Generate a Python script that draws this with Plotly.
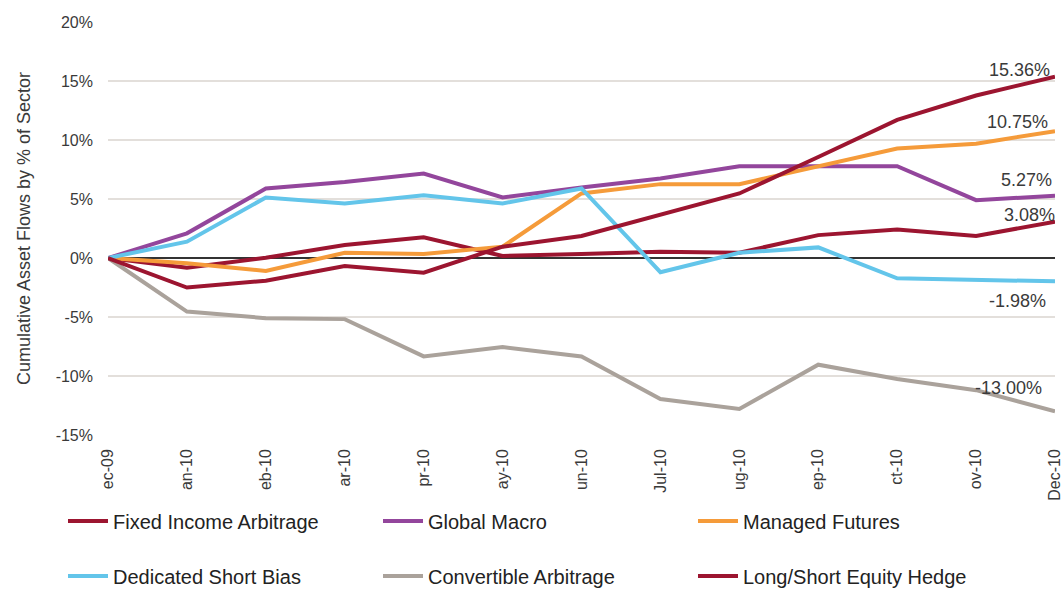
import plotly.graph_objects as go

# Month-end observation dates and the axis text shown under each tick
months = ["Dec-09", "Jan-10", "Feb-10", "Mar-10", "Apr-10", "May-10", "Jun-10",
          "Jul-10", "Aug-10", "Sep-10", "Oct-10", "Nov-10", "Dec-10"]
month_labels = ["ec-09", "an-10", "eb-10", "ar-10", "pr-10", "ay-10", "un-10",
                "Jul-10", "ug-10", "ep-10", "ct-10", "ov-10", "Dec-10"]

# Cumulative asset flows, % of sector
fixed_income_arb = [0, -0.82, 0.03, 1.10, 1.75, 0.17, 0.34, 0.53, 0.45, 1.94, 2.42, 1.86, 3.08]
global_macro = [0, 2.09, 5.89, 6.45, 7.16, 5.13, 5.98, 6.73, 7.78, 7.78, 7.78, 4.90, 5.27]
managed_futures = [0, -0.45, -1.10, 0.45, 0.34, 0.96, 5.47, 6.26, 6.26, 7.78, 9.27, 9.69, 10.75]
dedicated_short_bias = [0, 1.38, 5.13, 4.62, 5.32, 4.62, 5.89, -1.20, 0.45, 0.90, -1.72, -1.86, -1.98]
convertible_arb = [0, -4.54, -5.10, -5.18, -8.34, -7.55, -8.34, -11.95, -12.79, -9.04, -10.25, -11.20, -13.00]
long_short_equity = [0, -2.50, -1.92, -0.68, -1.24, 0.96, 1.86, 3.63, 5.47, 8.56, 11.70, 13.77, 15.36]

y_ticks = [-15, -10, -5, 0, 5, 10, 15, 20]

series = [
    ("Fixed Income Arbitrage", fixed_income_arb, "#9c1530", "legend"),
    ("Global Macro", global_macro, "#93469c", "legend"),
    ("Managed Futures", managed_futures, "#f59b3a", "legend"),
    ("Dedicated Short Bias", dedicated_short_bias, "#63c5ea", "legend2"),
    ("Convertible Arbitrage", convertible_arb, "#aaa29b", "legend2"),
    ("Long/Short Equity Hedge", long_short_equity, "#9c1530", "legend2"),
]

# End-of-period value labels: (series values, xshift, yshift)
end_labels = [
    (long_short_equity, -3, 7),
    (managed_futures, -5, 9),
    (global_macro, -1, 16),
    (fixed_income_arb, 2, 7),
    (dedicated_short_bias, -7, -20),
    (convertible_arb, -11, 23),
]

FONT = "Liberation Sans, Arial, sans-serif"
TEXT = "#3a3a3a"

fig = go.Figure()
for name, vals, color, leg in series:
    fig.add_trace(go.Scatter(
        x=months, y=vals, name=name, mode="lines",
        line=dict(color=color, width=4),
        legend=leg,
    ))

for vals, dx, dy in end_labels:
    fig.add_annotation(
        x=months[-1], y=vals[-1], text=f"{vals[-1]:.2f}%",
        showarrow=False, xanchor="right", yanchor="middle",
        xshift=dx, yshift=dy,
        font=dict(family=FONT, size=18, color=TEXT),
    )

legend_style = dict(
    orientation="h", xref="container", yref="container",
    x=63 / 1063, xanchor="left", yanchor="middle",
    entrywidth=260, entrywidthmode="pixels",
    font=dict(family=FONT, size=20, color="#222222"),
    bgcolor="rgba(0,0,0,0)", itemwidth=40,
)

fig.update_layout(
    width=1063, height=590,
    margin=dict(l=108, r=8, t=22, b=155, autoexpand=False),
    paper_bgcolor="white", plot_bgcolor="white",
    font=dict(family=FONT, color=TEXT),
    showlegend=True,
    legend=dict(legend_style, y=1 - 521 / 590),
    legend2=dict(legend_style, y=1 - 576 / 590),
    xaxis=dict(
        type="category", range=[0, len(months) - 1],
        tickmode="array", tickvals=months, ticktext=month_labels,
        tickangle=-90, showgrid=False, zeroline=False, showline=False,
        ticks="", ticklabelstandoff=10, automargin=False,
        tickfont=dict(family=FONT, size=16, color=TEXT),
    ),
    yaxis=dict(
        range=[-15, 20], tickvals=y_ticks,
        ticktext=[f"{v}%" for v in y_ticks],
        showgrid=True, gridcolor="#e3dfdb", gridwidth=2,
        zeroline=True, zerolinecolor="#333333", zerolinewidth=2,
        showline=False, ticks="", ticklabelstandoff=14, automargin=False,
        tickfont=dict(family=FONT, size=16, color=TEXT),
        title=dict(text="Cumulative Asset Flows by % of Sector",
                   font=dict(family=FONT, size=18, color=TEXT), standoff=20),
    ),
)

fig.write_html("out.html")
